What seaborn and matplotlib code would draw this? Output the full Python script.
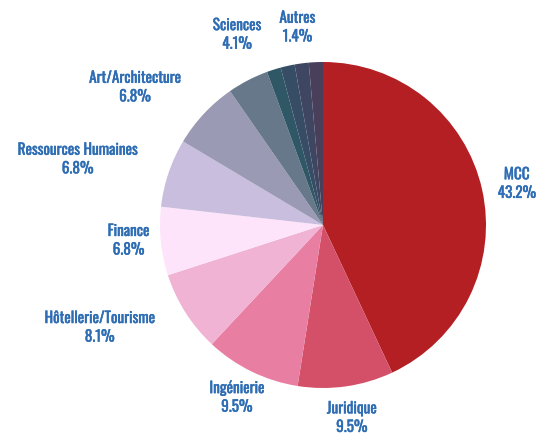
import numpy as np
import matplotlib
matplotlib.use("Agg")
import matplotlib.pyplot as plt
import matplotlib.patheffects as pe
import seaborn as sns
from matplotlib import font_manager

# -----------------------------
# Data
# -----------------------------
CATEGORIES = ["MCC", "Juridique", "Ingénierie", "Hôtellerie/Tourisme", "Finance",
              "Ressources Humaines", "Art/Architecture", "Sciences",
              "", "", "Autres", ""]
PERCENTS = [43.2, 9.5, 9.5, 8.1, 6.8, 6.8, 6.8, 4.1, 1.4, 1.4, 1.4, 1.4]
COLORS = ["#b41f24", "#d45068", "#e87fa3", "#f1b3d4", "#fde4fa", "#c9bedd",
          "#9a9ab4", "#66788a", "#2f5765", "#374d66", "#3e4662", "#4a3f5a"]

# -----------------------------
# Style
# -----------------------------
sns.set_theme(style="white")

names = {f.name for f in font_manager.fontManager.ttflist}
PREFERRED = ["Oswald", "Fjalla One", "Roboto Condensed", "Archivo Narrow"]
FONT = next((n for n in PREFERRED if n in names), "DejaVu Sans")
plt.rcParams["font.family"] = [FONT, "DejaVu Sans"]
LABEL_COLOR = "#2e6db4"

W_PX, H_PX = 549, 436
CX, CY, R = 323, 225, 163     # pie centre / radius in pixels
PAD, OFFSET, WFUDGE = 4, 4, 1.35
# small hand tweaks (pixels, right / down) for a few crowded labels
NUDGE = {"Sciences": (10, -21), "Autres": (0, -11),
         "Juridique": (0, 7), "Ingénierie": (7, 2), "Finance": (4, -3),
         "MCC": (1, 0), "Art/Architecture": (0, -4),
         "Ressources Humaines": (-2, -5), "Hôtellerie/Tourisme": (-4, 0)}

fig = plt.figure(figsize=(W_PX / 100, H_PX / 100), dpi=100)
ax = fig.add_axes([0, 0, 1, 1])

wedges, _ = ax.pie(PERCENTS, colors=COLORS, startangle=90, counterclock=False,
                   wedgeprops=dict(linewidth=0))
ax.set_aspect("auto")
ax.set_xlim(-CX / R, (W_PX - CX) / R)
ax.set_ylim(-(H_PX - CY) / R, CY / R)
ax.axis("off")

# labels outside each slice, pushed out by their box size
fig.canvas.draw()
renderer = fig.canvas.get_renderer()
for wedge, name, pct in zip(wedges, CATEGORIES, PERCENTS):
    if not name:
        continue
    ang = np.deg2rad((wedge.theta1 + wedge.theta2) / 2)
    vx, vy = np.cos(ang), np.sin(ang)
    t = ax.text(0, 0, f"{name}\n{pct:.1f}%", ha="center", va="center",
                color=LABEL_COLOR, fontsize=11, fontweight="semibold",
                linespacing=1.3,
                path_effects=[pe.withStroke(linewidth=0.3, foreground=LABEL_COLOR)])
    bb = t.get_window_extent(renderer)
    w = bb.width * WFUDGE + 2 * PAD
    h = bb.height + 2 * PAD
    m = max(abs(vx), abs(vy))
    nx, ny = NUDGE.get(name, (0, 0))
    dx = w / 2 * vx / m + OFFSET * vx + nx
    dy = h / 2 * vy / m + OFFSET * vy - ny
    t.set_position((vx + dx / R, vy + dy / R))

fig.savefig("out.png", dpi=100)
